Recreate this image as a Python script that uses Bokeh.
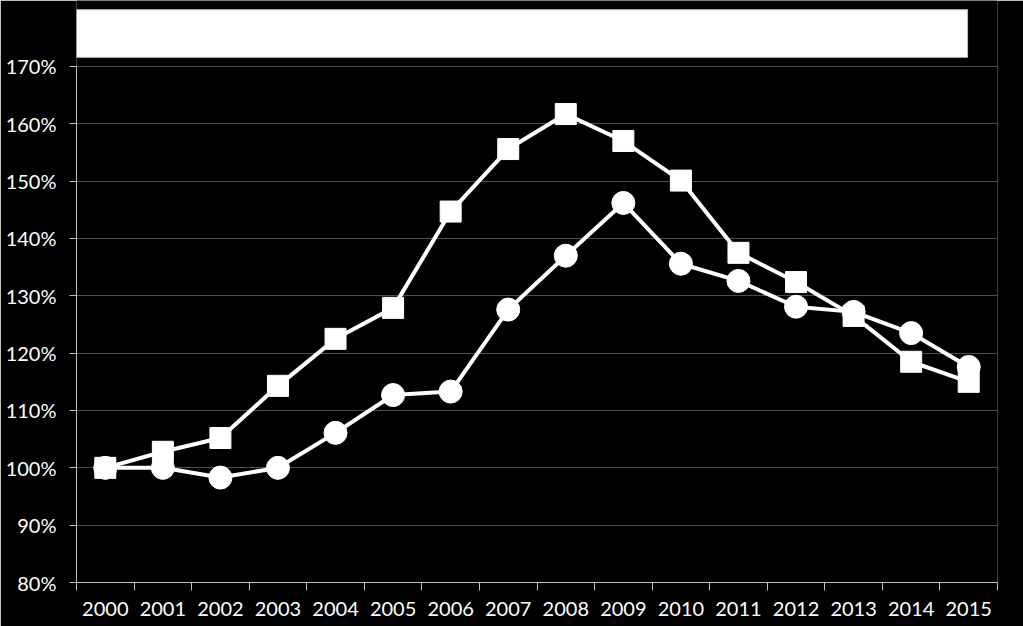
from bokeh.plotting import figure
from bokeh.models import Range1d, FixedTicker, PrintfTickFormatter, ColumnDataSource, LinearAxis, Grid
from bokeh.embed import file_html
from bokeh.resources import INLINE

years = ["2000", "2001", "2002", "2003", "2004", "2005", "2006", "2007",
         "2008", "2009", "2010", "2011", "2012", "2013", "2014", "2015"]
series_squares = [100.0, 102.8, 105.2, 114.3, 122.5, 127.9, 144.7, 155.6,
                  161.7, 157.0, 150.1, 137.5, 132.4, 126.5, 118.5, 115.0]
series_circles = [100.0, 100.0, 98.3, 100.0, 106.1, 112.7, 113.3, 127.6,
                  137.0, 146.2, 135.6, 132.6, 128.1, 127.2, 123.5, 117.6]
y_ticks = [80, 90, 100, 110, 120, 130, 140, 150, 160, 170]

FONT = "Lato"
idx = list(range(len(years)))
src = ColumnDataSource(dict(x=idx, sq=series_squares, ci=series_circles))

p = figure(width=1023, height=626, output_backend="svg", toolbar_location=None,
           x_range=Range1d(-0.5, len(years) - 0.5),
           y_range=Range1d(80, 181.51),
           min_border_left=76, min_border_right=26, min_border_top=0,
           min_border_bottom=44, background_fill_color="black",
           border_fill_color="black", outline_line_color=None)
p.xaxis.visible = False
p.yaxis.visible = False
p.xgrid.visible = False
p.ygrid.visible = False

xt = FixedTicker(ticks=idx, minor_ticks=[i - 0.5 for i in range(len(years) + 1)])
xa = LinearAxis(ticker=xt, major_label_overrides={i: y for i, y in zip(idx, years)})
xa.axis_line_color = "#bfbfbf"
xa.axis_line_width = 1
xa.major_tick_out = 0
xa.major_tick_in = 0
xa.minor_tick_out = 8
xa.minor_tick_in = 0
xa.minor_tick_line_color = "#bfbfbf"
xa.major_label_text_color = "white"
xa.major_label_text_font = FONT
xa.major_label_text_font_size = "20px"
xa.major_label_standoff = 11
p.add_layout(xa, "below")

yt = FixedTicker(ticks=y_ticks, minor_ticks=[])
ya = LinearAxis(ticker=yt, formatter=PrintfTickFormatter(format="%d%%"), bounds=(80, 170))
ya.axis_line_color = "#bfbfbf"
ya.major_tick_out = 7
ya.major_tick_in = 0
ya.major_tick_line_color = "#bfbfbf"
ya.minor_tick_out = 0
ya.minor_tick_in = 0
ya.major_label_text_color = "white"
ya.major_label_text_font = FONT
ya.major_label_text_font_size = "20px"
ya.major_label_standoff = 13
p.add_layout(ya, "left")

g = Grid(dimension=1, ticker=yt, grid_line_color="#9a9a9a", grid_line_dash="1 1",
         grid_line_width=1)
p.add_layout(g)

# empty white title box
p.quad(left=-0.5, right=14.98, bottom=171.6, top=179.9, fill_color="white",
       line_color="#bfbfbf", line_width=1)

p.line("x", "sq", source=src, line_color="white", line_width=4)
p.line("x", "ci", source=src, line_color="white", line_width=4)
p.scatter("x", "sq", source=src, marker="square", size=21, fill_color="white",
          line_color="white")
p.scatter("x", "ci", source=src, marker="circle", size=23, fill_color="white",
          line_color="white")

open("out.html", "w").write(file_html(p, INLINE))
